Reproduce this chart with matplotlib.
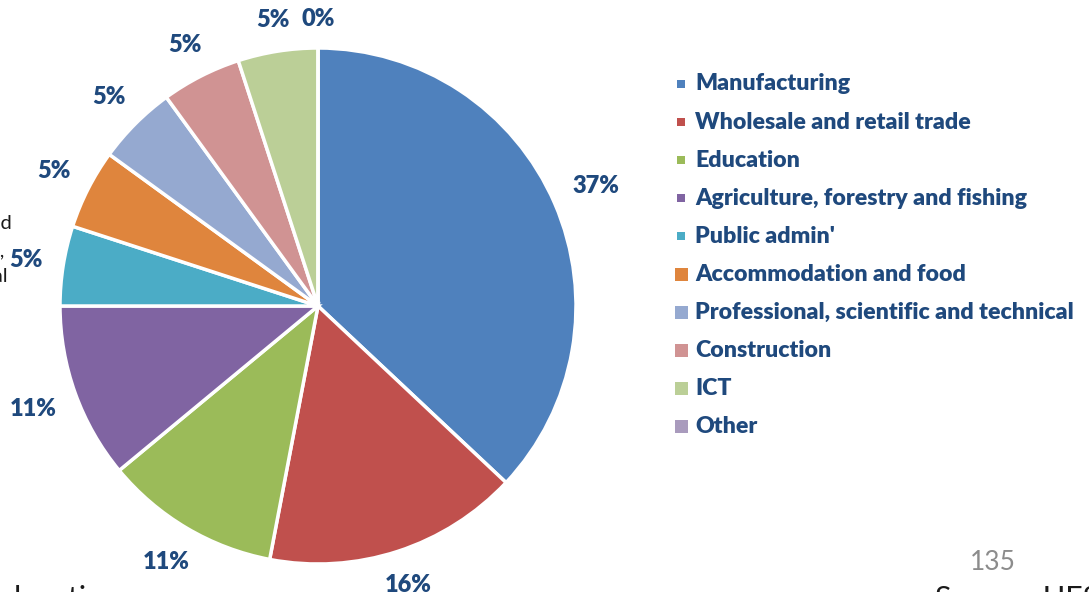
import matplotlib
matplotlib.use("Agg")
import matplotlib.pyplot as plt
from matplotlib.patches import Rectangle
import numpy as np

# Employment by sector (share of total, %)
sectors = ["Manufacturing", "Wholesale and retail trade", "Education",
           "Agriculture, forestry and fishing", "Public admin'",
           "Accommodation and food", "Professional, scientific and technical",
           "Construction", "ICT", "Other"]
shares = [37, 16, 11, 11, 5, 5, 5, 5, 5, 0]
colors = ["#4F81BD", "#C0504D", "#9BBB59", "#8064A2", "#4BACC6",
          "#DF853D", "#95A9D0", "#D09393", "#BBCF97", "#A99BBD"]

TEXT_BLUE = "#1F497D"
FONT = "Lato"

W, H = 1089, 592
fig = plt.figure(figsize=(W / 100, H / 100), dpi=100)
fig.patch.set_facecolor("white")

# pie placed by centre and radius in pixels
cx, cy, R = 318, 306, 258
lim = 1.3
side = 2 * lim * R
ax = fig.add_axes([(cx - side / 2) / W, (H - cy - side / 2) / H, side / W, side / H])
wedges, _ = ax.pie(shares, colors=colors, startangle=90, counterclock=False,
                   radius=1, wedgeprops=dict(edgecolor="white", linewidth=2.5))
ax.set_xlim(-lim, lim)
ax.set_ylim(-lim, lim)
ax.set_aspect("equal")
ax.axis("off")

# percentage labels just outside each slice, kept a fixed gap from the rim
labels = []
for w, v in zip(wedges, shares):
    labels.append(ax.text(0, 0, f"{v}%", ha="center", va="center",
                          fontsize=17, fontweight="heavy", color=TEXT_BLUE,
                          family=FONT))
fig.canvas.draw()
renderer = fig.canvas.get_renderer()
gap = 20 / R
for w, t in zip(wedges, labels):
    mid = np.deg2rad((w.theta1 + w.theta2) / 2)
    bb = t.get_window_extent(renderer)
    hw, hh = bb.width / 2 / R, bb.height / 2 / R * 0.8
    dx, dy = np.cos(mid), np.sin(mid)
    r = 1 + gap + abs(dx) * hw + abs(dy) * hh
    t.set_position((r * dx, r * dy))

# legend on the right
def px(x, y):
    return x / W, 1 - y / H

row0, step = 84, 38.1
for i, (name, col) in enumerate(zip(sectors, colors)):
    y = row0 + i * step
    s = 8 if i < 5 else 13
    mx = 681
    x0, y0 = px(mx - s / 2, y + s / 2)
    fig.patches.append(Rectangle((x0, y0), s / W, s / H, transform=fig.transFigure,
                                 facecolor=col, edgecolor="none"))
    fig.text(*px(695, y), name, ha="left", va="center", fontsize=16.7,
             fontweight="heavy", color=TEXT_BLUE, family=FONT)

# slide page number and neighbouring slide text
fig.text(*px(993, 562), "135", ha="center", va="center", fontsize=19,
         color="#8C8C8C", family=FONT)
for txt, x, y in [("Hotels and", 12, 229), ("retail,", 5, 256), ("financial", 8, 282)]:
    fig.text(*px(x, y), txt, ha="right", va="baseline", fontsize=14.5,
             color="#1A1A1A", family=FONT)
fig.text(*px(-11, 608), "education", ha="left", va="baseline", fontsize=22,
         color="#1A1A1A", family=FONT)
fig.text(*px(935, 608), "Source: UES", ha="left", va="baseline", fontsize=22,
         color="#1A1A1A", family=FONT)

fig.savefig("out.png", dpi=100, facecolor="white")
